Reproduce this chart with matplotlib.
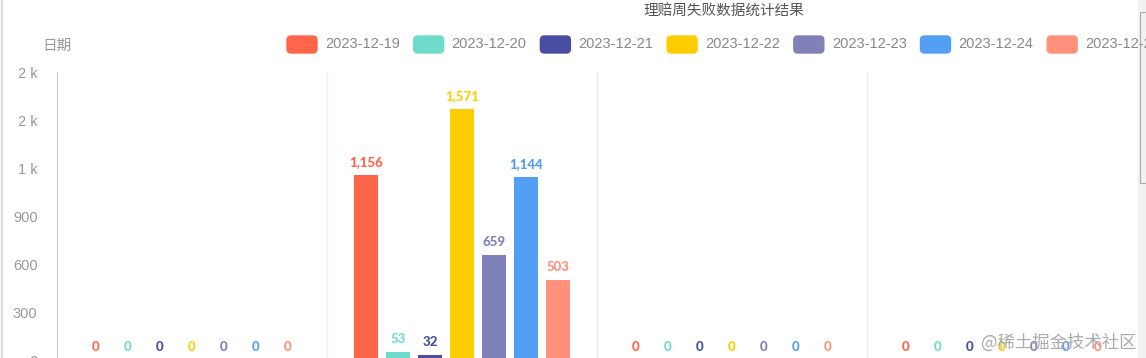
import matplotlib.pyplot as plt
from matplotlib.patches import FancyBboxPatch, Rectangle
from matplotlib.transforms import IdentityTransform

plt.rcParams['font.family'] = ['Liberation Sans', 'Noto Sans CJK SC']

categories = ['c1', 'c2', 'c3', 'c4']
series_names = ['2023-12-19', '2023-12-20', '2023-12-21', '2023-12-22',
                '2023-12-23', '2023-12-24', '2023-12-25']
series_values = [
    [0, 1156, 0, 0],
    [0, 53, 0, 0],
    [0, 32, 0, 0],
    [0, 1571, 0, 0],
    [0, 659, 0, 0],
    [0, 1144, 0, 0],
    [0, 503, 0, 0],
]
colors = ['#ff654a', '#6fdbcb', '#4a4ea3', '#ffcd02', '#7f81b8', '#529ff5', '#ff917c']
y_ticks = [0, 300, 600, 900, 1200, 1500, 1800]
y_tick_labels = ['0', '300', '600', '900', '1 k', '2 k', '2 k']

W, H = 1146, 358
fig = plt.figure(figsize=(W / 100, H / 100), dpi=100)
ax = fig.add_axes([57 / W, -2 / H, 1080 / W, 288 / H])

step = 32 / 270
bw = 24 / 270
x = range(len(categories))
for i, (name, vals) in enumerate(zip(series_names, series_values)):
    xs = [c + (i - 3) * step for c in x]
    bars = ax.bar(xs, vals, width=bw, color=colors[i], label=name)
    ax.bar_label(bars, labels=['{:,}'.format(v) for v in vals], padding=5,
                 color=colors[i], fontsize=9.5, fontweight='black', family='Lato')

ax.set_xlim(-0.5, len(categories) - 0.5)
ax.set_ylim(0, 1800)
ax.set_yticks(y_ticks)
ax.set_yticklabels(y_tick_labels, fontsize=10.5, color='#999999')
ax.tick_params(axis='y', length=0, pad=14)
ax.tick_params(axis='x', length=0, labelbottom=False)
for s in ['top', 'right', 'bottom']:
    ax.spines[s].set_visible(False)
ax.spines['left'].set_color('#cccccc')
for b in [0.5, 1.5, 2.5]:
    ax.axvline(b, color='#eeeeee', lw=1, zorder=0)

# titles
fig.text(724 / W, 1 - 12 / H, '理赔周失败数据统计结果', ha='center', va='center',
         fontsize=10.5, color='#555555')
fig.text(42 / W, 1 - 46 / H, '日期', ha='left', va='center', fontsize=10.5, color='#999999')

# legend, drawn in pixels
for i, name in enumerate(series_names):
    x0 = 287 + i * 126.7
    fig.patches.append(FancyBboxPatch((x0 + 1, H - 52), 28, 15,
                                      boxstyle='round,pad=1,rounding_size=4',
                                      transform=IdentityTransform(), color=colors[i]))
    fig.text((x0 + 38) / W, 1 - 44 / H, name, ha='left', va='center',
             fontsize=10.5, color='#888888')

# container border + scrollbar
fig.patches.append(Rectangle((1 / W, 0), 1 / W, 1, transform=fig.transFigure,
                             color='#dddddd'))
fig.patches.append(Rectangle((1138 / W, 0), 8 / W, 1, transform=fig.transFigure,
                             color='#f1f1f1'))
fig.patches.append(Rectangle((1139.5 / W, 1 - 183 / H), 8 / W, 171 / H,
                             transform=fig.transFigure, facecolor='#f1f1f1',
                             edgecolor='#aaaaaa', lw=0.8))

fig.text(1137 / W, 1 - 343 / H, '@稀土掘金技术社区', ha='right', va='center',
         fontsize=12.5, color='#aaaaaa', family='Noto Sans CJK SC')

fig.savefig('out.png', dpi=100)
